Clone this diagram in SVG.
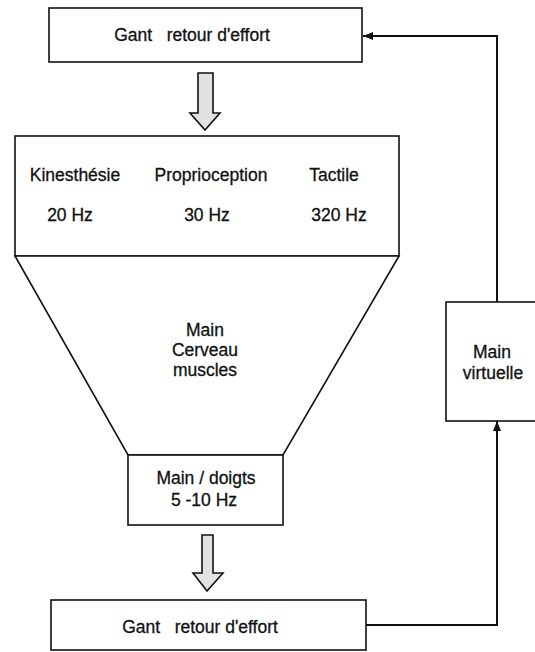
<svg xmlns="http://www.w3.org/2000/svg" width="535" height="652" viewBox="0 0 535 652">
  <style>
    .box { fill: #fff; stroke: #111; stroke-width: 1.6; }
    .blk { fill: #e2e2e2; stroke: #111; stroke-width: 1.6; stroke-linejoin: miter; }
    .wire { fill: none; stroke: #111; stroke-width: 2; }
    text { font-family: "Liberation Sans", Arial, sans-serif; font-size: 17.5px; fill: #111; stroke: #111; stroke-width: 0.3; text-anchor: middle; white-space: pre; }
  </style>
  <defs>
    <marker id="tip" viewBox="0 0 10 8" refX="10" refY="4" markerWidth="10" markerHeight="8" markerUnits="userSpaceOnUse" orient="auto">
      <path d="M0,0 L10,4 L0,8 Z" fill="#111"/>
    </marker>
  </defs>

  <rect width="535" height="652" fill="#fff"/>

  <!-- feedback connectors -->
  <g id="connectors">
    <path class="wire" d="M366,625 H497 V421" marker-end="url(#tip)"/>
    <path class="wire" d="M497,302 V36 H363" marker-end="url(#tip)"/>
    <polygon class="blk" points="198,73 213,73 213,113 220,113 205,130 190,113 198,113"/>
    <polygon class="blk" points="202,535 213,535 213,573 223,573 207,591 193,573 202,573"/>
  </g>

  <g id="gant-haut">
    <rect class="box" x="49" y="8" width="313" height="54"/>
    <text x="192" y="41">Gant   retour d'effort</text>
  </g>

  <g id="sens">
    <rect class="box" x="15" y="136" width="384" height="120"/>
    <text x="75" y="181">Kinesthésie</text>
    <text x="211" y="181">Proprioception</text>
    <text x="334" y="181">Tactile</text>
    <text x="70" y="221">20 Hz</text>
    <text x="207" y="221">30 Hz</text>
    <text x="339" y="221">320 Hz</text>
  </g>

  <g id="cerveau">
    <polygon class="box" points="15,256 399,256 283,455 128,455"/>
    <text x="205" y="336">Main</text>
    <text x="205" y="356">Cerveau</text>
    <text x="205" y="376">muscles</text>
  </g>

  <g id="main-doigts">
    <rect class="box" x="128" y="455" width="155" height="70"/>
    <text x="206" y="484">Main / doigts</text>
    <text x="204" y="506">5 -10 Hz</text>
  </g>

  <g id="main-virtuelle">
    <rect class="box" x="446" y="302" width="100" height="119"/>
    <text x="492" y="358">Main</text>
    <text x="493" y="379">virtuelle</text>
  </g>

  <g id="gant-bas">
    <rect class="box" x="51" y="600" width="315" height="50"/>
    <text x="200" y="633">Gant   retour d'effort</text>
  </g>
</svg>
